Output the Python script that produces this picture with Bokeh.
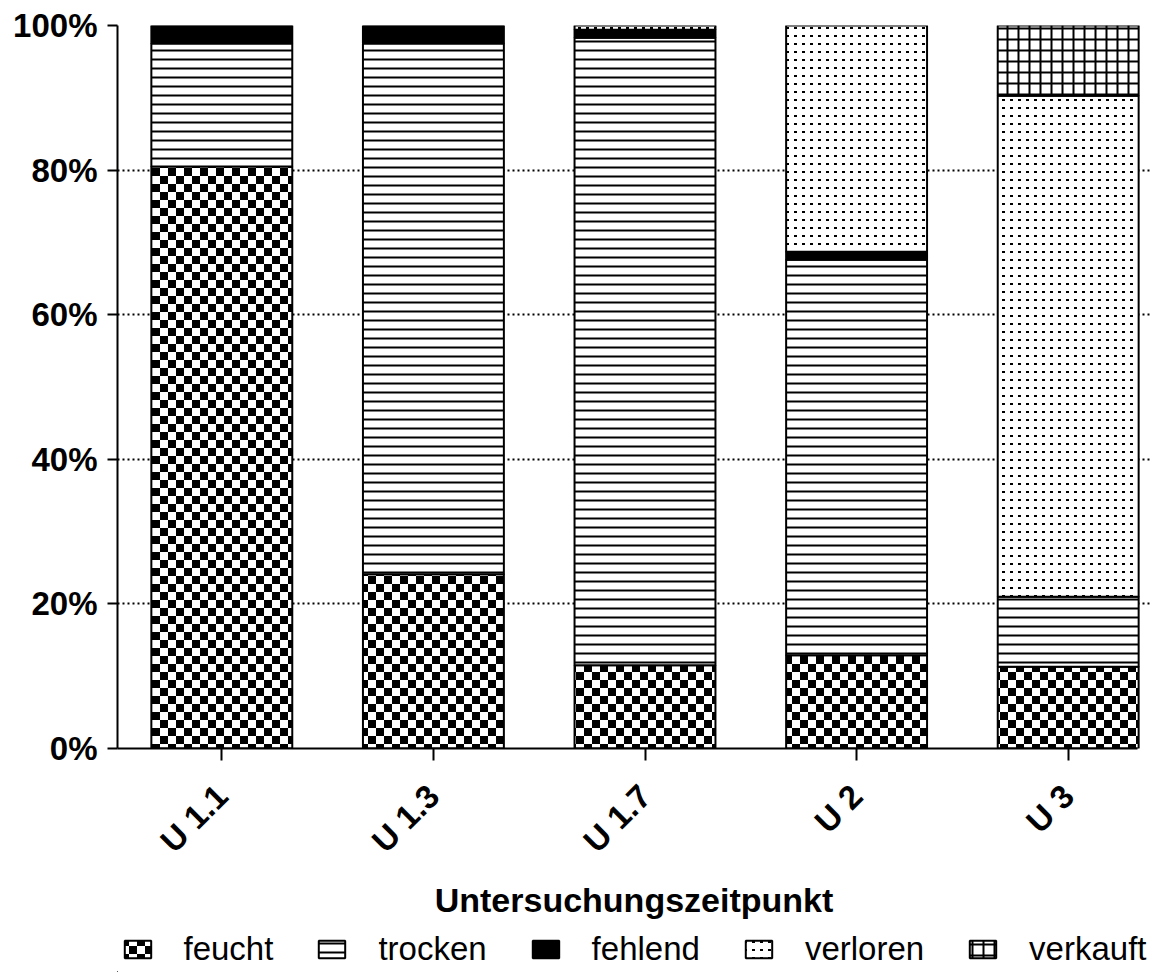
import math, zlib, struct, base64
from bokeh.plotting import figure
from bokeh.layouts import column
from bokeh.models import (ColumnDataSource, Range1d, FixedTicker, PrintfTickFormatter,
                          Legend, LegendItem, ImageURLTexture)
from bokeh.embed import file_html
from bokeh.resources import INLINE

# ---- data (percent of animals per examination time point) ----
categories = ["U 1.1", "U 1.3", "U 1.7", "U 2", "U 3"]
feucht   = [80.5, 24.1, 11.5, 12.9, 11.3]
trocken  = [17.0, 73.4, 86.8, 54.7, 9.7]
fehlend  = [2.5, 2.5, 1.1, 1.1, 0.0]
verloren = [0.0, 0.0, 0.6, 31.3, 69.3]
verkauft = [0.0, 0.0, 0.0, 0.0, 9.7]
series_names = ["feucht", "trocken", "fehlend", "verloren", "verkauft"]
y_ticks = [0, 20, 40, 60, 80, 100]
x_title = "Untersuchungszeitpunkt"

series_values = [feucht, trocken, fehlend, verloren, verkauft]

FONT = "Liberation Sans"


def png_url(w, h, pix):
    """Tiny grayscale PNG tile as data URL; pix(x, y) -> True for black."""
    raw = b"".join(b"\x00" + bytes(0 if pix(x, y) else 255 for x in range(w)) for y in range(h))

    def chunk(t, d):
        return struct.pack(">I", len(d)) + t + d + struct.pack(">I", zlib.crc32(t + d) & 0xffffffff)

    png = (b"\x89PNG\r\n\x1a\n"
           + chunk(b"IHDR", struct.pack(">IIBBBBB", w, h, 8, 0, 0, 0, 0))
           + chunk(b"IDAT", zlib.compress(raw))
           + chunk(b"IEND", b""))
    return "data:image/png;base64," + base64.b64encode(png).decode()


checker = ImageURLTexture(url=png_url(16, 16, lambda x, y: (x // 8 + y // 8) % 2 == 0))
dots = ImageURLTexture(url=png_url(8, 8, lambda x, y: 2 <= x <= 4 and 3 <= y <= 4))
textures = {"checker": checker, "dots": dots}

# style per series: (pattern, scale, weight, fill)
styles = [
    ("checker", 16, 1.0, "white"),
    ("-", 9, 2.0, "white"),
    (None, 10, 1.0, "black"),
    ("dots", 8, 1.0, "white"),
    ("+", 11, 2.0, "white"),
]


def style_kw(pat, sc, wt, fill):
    kw = dict(fill_color=fill, line_color="black", line_width=2)
    if pat:
        kw.update(hatch_pattern="hp", hatch_color="black", hatch_scale=sc,
                  hatch_weight=wt, hatch_extra=textures)
    return kw


x_pos = list(range(len(categories)))

W = 1170
H_MAIN = 926
BL, BR = 117, 20
p = figure(width=W, height=H_MAIN,
           x_range=Range1d(-0.493, 4.389), y_range=Range1d(0, 100),
           output_backend="svg", toolbar_location=None,
           min_border_left=BL, min_border_right=BR, min_border_top=25,
           min_border_bottom=H_MAIN - 748)

p.outline_line_color = None
p.background_fill_color = "white"
p.border_fill_color = "white"

bottoms = [0.0] * len(categories)
for name, vals, st in zip(series_names, series_values, styles):
    xs, bs, ts = [], [], []
    for i, v in enumerate(vals):
        if v > 0:
            xs.append(x_pos[i]); bs.append(bottoms[i]); ts.append(bottoms[i] + v)
        bottoms[i] += v
    src = ColumnDataSource(dict(x=xs, bottom=bs, top=ts,
                                hp=[st[0] if st[0] else " "] * len(xs)))
    p.vbar(x="x", bottom="bottom", top="top", width=0.666, source=src, **style_kw(*st))

# axes
xa = p.xaxis[0]
xa.ticker = FixedTicker(ticks=x_pos)
xa.major_label_overrides = {i: c for i, c in zip(x_pos, categories)}
xa.bounds = (-0.493, 4.327)
xa.major_label_orientation = math.pi / 4
xa.major_label_text_font = FONT
xa.major_label_text_font_style = "bold"
xa.major_label_text_font_size = "33px"
xa.major_label_text_color = "black"
xa.major_label_standoff = 30
xa.major_tick_out = 12
xa.major_tick_in = 0
xa.minor_tick_line_color = None
xa.axis_line_width = 2
xa.major_tick_line_width = 2
xa.axis_line_color = "black"
xa.axis_label = x_title
xa.axis_label_text_font = FONT
xa.axis_label_text_font_style = "bold"
xa.axis_label_text_font_size = "34px"
xa.axis_label_text_color = "black"
xa.axis_label_standoff = 6

ya = p.yaxis[0]
ya.ticker = FixedTicker(ticks=y_ticks)
ya.formatter = PrintfTickFormatter(format="%d%%")
ya.major_label_text_font = FONT
ya.major_label_text_font_style = "bold"
ya.major_label_text_font_size = "33px"
ya.major_label_text_color = "black"
ya.major_label_standoff = 10
ya.major_tick_out = 10
ya.major_tick_in = 0
ya.minor_tick_line_color = None
ya.axis_line_width = 2
ya.major_tick_line_width = 2

p.xgrid.grid_line_color = None
p.ygrid.grid_line_color = "black"
p.ygrid.grid_line_dash = "2 3"
p.ygrid.grid_line_width = 2
p.ygrid.ticker = FixedTicker(ticks=y_ticks)

# ---- legend strip below the chart (same frame width as the chart) ----
H_LEG = 46
lf = figure(width=W, height=H_LEG, x_range=Range1d(0, 1), y_range=Range1d(0, 1),
            x_axis_type=None, y_axis_type=None, output_backend="svg",
            toolbar_location=None, min_border_left=BL, min_border_right=BR,
            min_border_top=0, min_border_bottom=0)
lf.outline_line_color = None
lf.background_fill_color = "white"
lf.border_fill_color = "white"

items = []
for name, st in zip(series_names, styles):
    # legend swatch carrier, kept entirely outside the visible ranges of the strip
    src = ColumnDataSource(dict(x=[-5.0], bottom=[-10.0], top=[-9.0],
                                hp=[st[0] if st[0] else " "]))
    r = lf.vbar(x="x", bottom="bottom", top="top", width=0.5, source=src, **style_kw(*st))
    items.append(LegendItem(label=name, renderers=[r]))

legend = Legend(items=items, orientation="horizontal", location="center",
                label_text_font=FONT, label_text_font_size="33px",
                label_text_color="black",
                glyph_width=33, glyph_height=22, label_standoff=30, spacing=42,
                border_line_color=None, background_fill_alpha=0,
                padding=0, margin=0)
lf.add_layout(legend, "center")

layout = column(p, lf, spacing=0)
open("out.html", "w").write(file_html(layout, INLINE))
